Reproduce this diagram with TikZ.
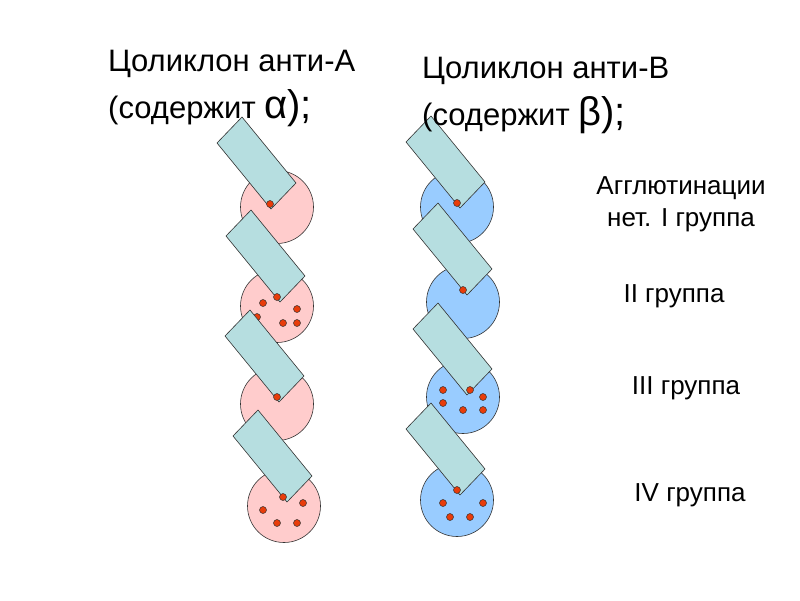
\documentclass[tikz,border=0pt]{standalone}
\usepackage{fontspec}
\setmainfont{Liberation Sans}
\definecolor{pinkf}{RGB}{255,204,204}
\definecolor{bluef}{RGB}{153,204,255}
\definecolor{rectf}{RGB}{182,222,224}
\definecolor{dotf}{RGB}{232,60,10}
\begin{document}
\begin{tikzpicture}[x=1pt,y=-1pt,
  cell/.style={draw=black!80,line width=0.6pt},
  plate/.style={draw=black!80,fill=rectf,line width=0.6pt},
  dotm/.style={draw=black!80,fill=dotf,line width=0.5pt},
  title/.style={anchor=west,font=\fontsize{31}{36}\selectfont,inner sep=0pt},
  lab/.style={font=\fontsize{26}{30}\selectfont,inner sep=0pt,align=center}]
\useasboundingbox (0,0) rectangle (800,600);
\newcommand{\unit}[5]{% circle center x,y ; color ; corner x,y
  \draw[cell,fill=#3] (#1,#2) circle (36.5);
  \draw[plate] (#4,#5) -- ++(25,-26) -- ++(-54,-66) -- ++(-25,26) -- cycle;
}
\newcommand{\dt}[2]{\draw[dotm] (#1,#2) circle (3.5);}
% left column
\unit{277}{207}{pinkf}{271}{209} \dt{270}{204}
\unit{277}{306}{pinkf}{280}{302}
\dt{277}{297}\dt{263}{303}\dt{257}{317}\dt{297}{309}\dt{283}{323}\dt{297}{323}
\unit{277}{404}{pinkf}{279}{402} \dt{277}{397}
\unit{284}{506}{pinkf}{287}{502}
\dt{283}{497}\dt{303}{503}\dt{263}{510}\dt{277}{523}\dt{297}{523}
% right column
\unit{457}{207}{bluef}{460}{208} \dt{457}{203}
\unit{463}{302}{bluef}{467}{295} \dt{463}{290}
\unit{463}{397}{bluef}{467}{395}
\dt{470}{390}\dt{443}{390}\dt{443}{403}\dt{463}{410}\dt{483}{397}\dt{483}{410}
\unit{457}{500}{bluef}{460}{495}
\dt{457}{490}\dt{443}{503}\dt{483}{503}\dt{450}{517}\dt{470}{517}
% texts
\node[title] (t1) at (108,64) {Цоликлон анти-А};
\node[title] (t2) at (108,108) {(содержит {\fontsize{40}{40}\selectfont α);}};
\node[title] (t3) at (422,71) {Цоликлон анти-В};
\node[title] (t4) at (422,115) {(содержит {\fontsize{40}{40}\selectfont β);}};
\node[lab] (g1) at (681,204) {Агглютинации\\[2pt]нет. I группа};
\node[lab] (g2) at (674,296) {II группа};
\node[lab] (g3) at (686,388) {III группа};
\node[lab] (g4) at (690,495) {IV группа};
\end{tikzpicture}
\end{document}
